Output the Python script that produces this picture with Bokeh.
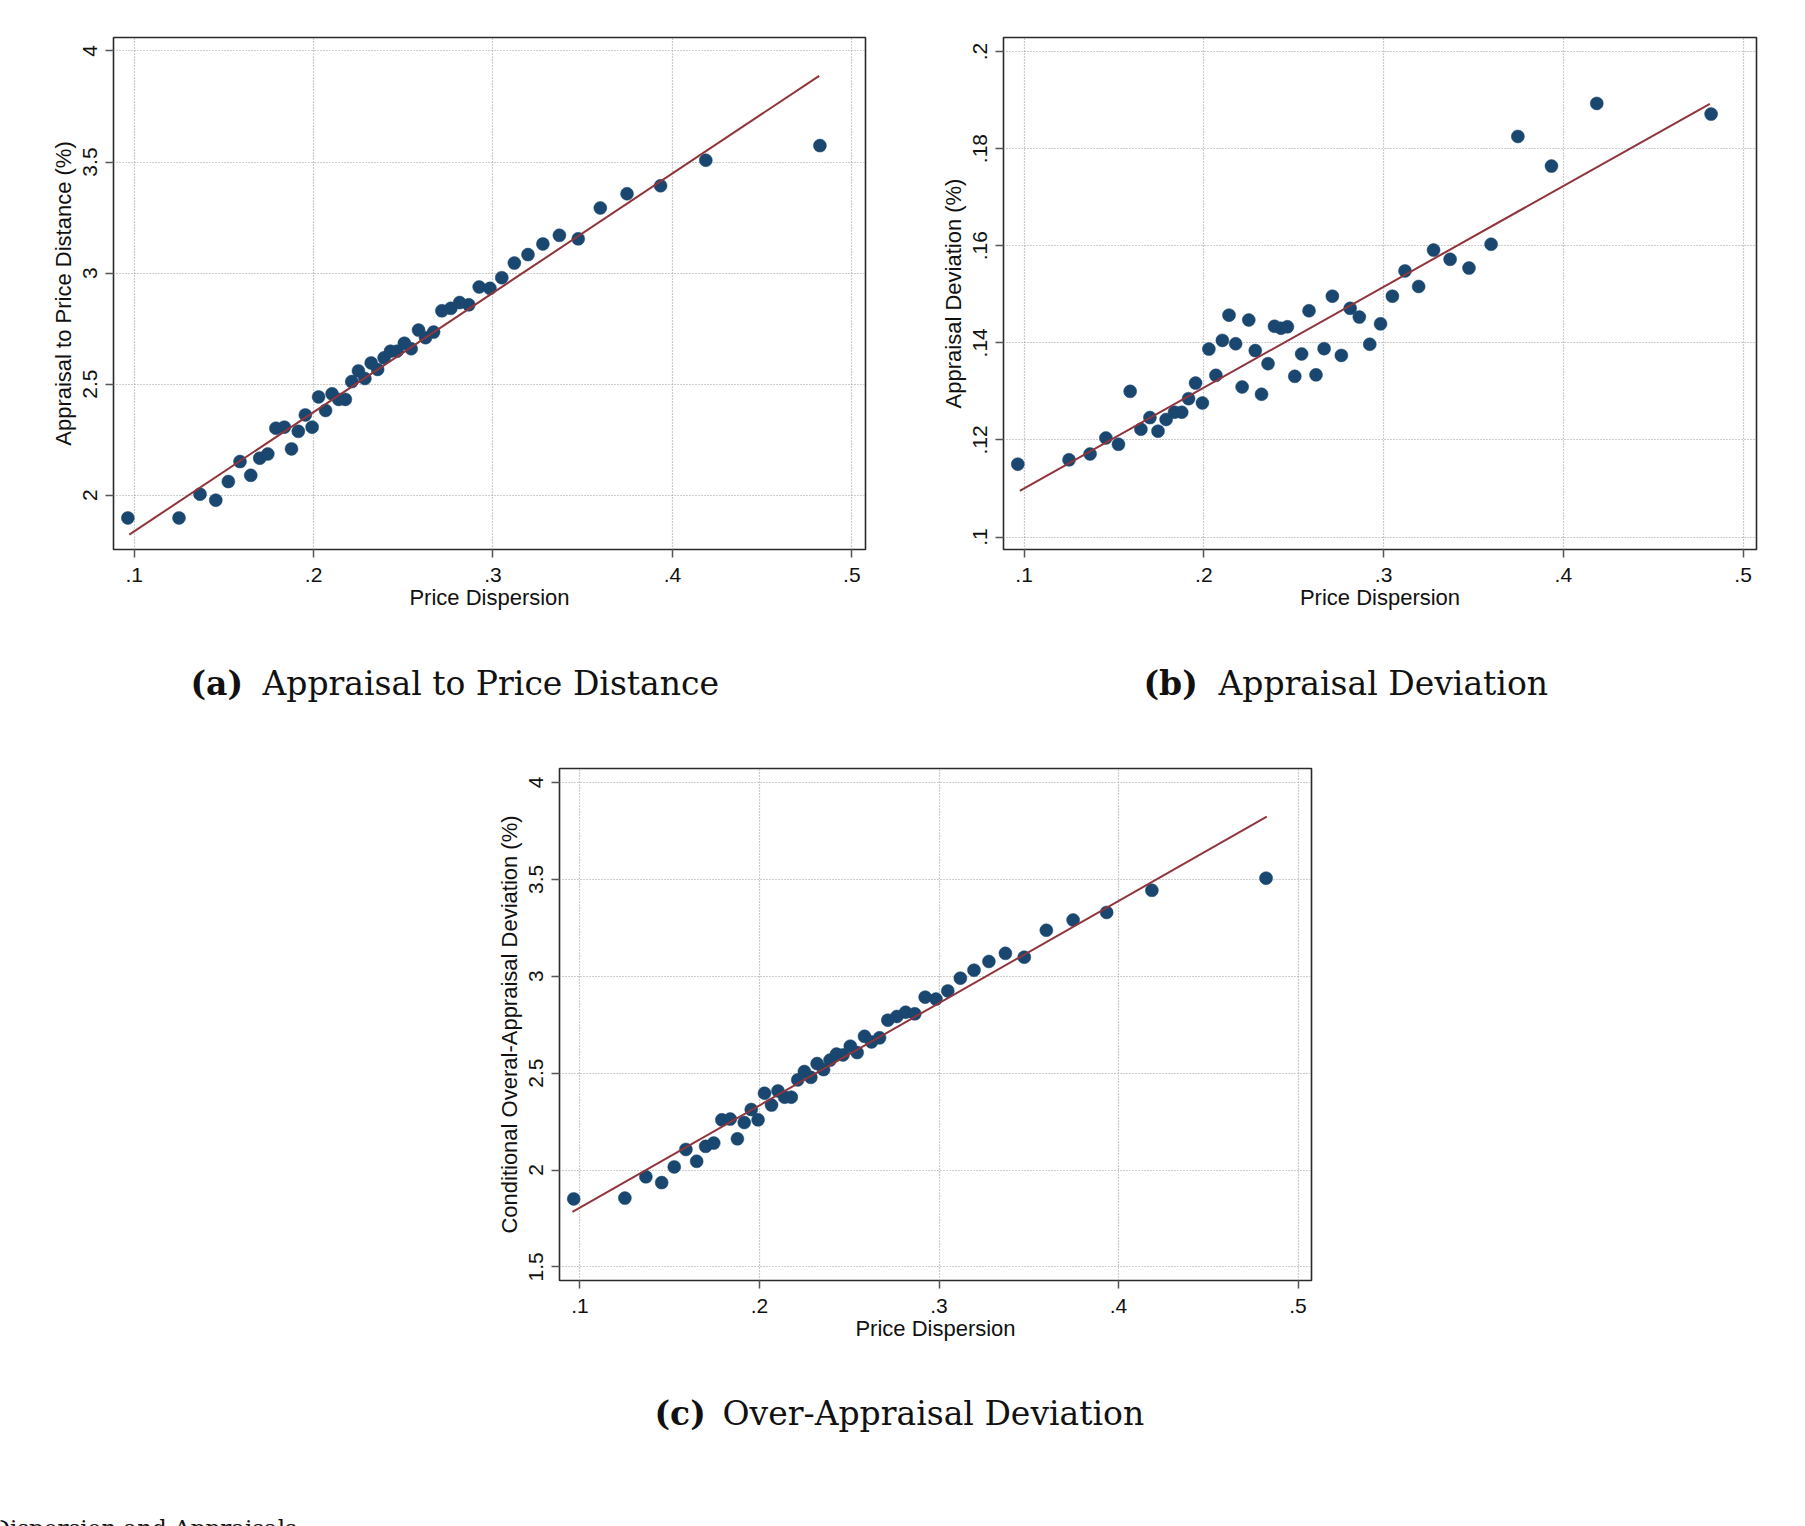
from bokeh.plotting import figure
from bokeh.models import Range1d, FixedTicker
from bokeh.core.properties import value
from bokeh.layouts import row, column
from bokeh.embed import file_html
from bokeh.resources import INLINE

# ---------------- data ----------------
price_dispersion = [0.0965, 0.125, 0.1367, 0.1455, 0.1525, 0.159, 0.165, 0.170, 0.1745, 0.179,
                    0.1837, 0.1877, 0.1915, 0.1954, 0.1992, 0.2028, 0.2067, 0.2103, 0.214, 0.2177,
                    0.2213, 0.225, 0.2286, 0.2321, 0.2357, 0.2393, 0.2429, 0.2465, 0.2506, 0.2544,
                    0.2585, 0.2624, 0.2669, 0.2715, 0.2765, 0.2814, 0.2865, 0.2923, 0.2983, 0.3049,
                    0.3119, 0.3195, 0.3278, 0.337, 0.3475, 0.3598, 0.3747, 0.3934, 0.4186, 0.4822]

appraisal_price_distance = [1.897, 1.897, 2.004, 1.977, 2.061, 2.151, 2.089, 2.166, 2.185, 2.301,
                            2.306, 2.208, 2.287, 2.361, 2.306, 2.442, 2.381, 2.456, 2.431, 2.431,
                            2.511, 2.559, 2.525, 2.595, 2.566, 2.618, 2.648, 2.648, 2.684, 2.659,
                            2.743, 2.709, 2.734, 2.830, 2.841, 2.867, 2.857, 2.937, 2.931, 2.979,
                            3.045, 3.083, 3.131, 3.170, 3.154, 3.293, 3.357, 3.393, 3.508, 3.574]

appraisal_deviation = [0.1150, 0.1159, 0.1171, 0.1204, 0.1191, 0.1300, 0.1222, 0.1246, 0.1218, 0.1242,
                       0.1257, 0.1257, 0.1285, 0.1317, 0.1276, 0.1387, 0.1333, 0.1405, 0.1457, 0.1398,
                       0.1309, 0.1447, 0.1384, 0.1294, 0.1357, 0.1434, 0.1430, 0.1433, 0.1331, 0.1377,
                       0.1466, 0.1334, 0.1388, 0.1496, 0.1374, 0.1471, 0.1453, 0.1397, 0.1439, 0.1496,
                       0.1548, 0.1516, 0.1591, 0.1572, 0.1554, 0.1603, 0.1825, 0.1764, 0.1893, 0.1871]

over_appraisal_deviation = [1.851, 1.855, 1.965, 1.935, 2.016, 2.106, 2.045, 2.122, 2.139, 2.259,
                            2.263, 2.161, 2.245, 2.312, 2.259, 2.396, 2.335, 2.408, 2.376, 2.376,
                            2.465, 2.508, 2.478, 2.549, 2.518, 2.567, 2.598, 2.594, 2.639, 2.606,
                            2.690, 2.661, 2.682, 2.773, 2.792, 2.814, 2.806, 2.892, 2.882, 2.924,
                            2.990, 3.031, 3.076, 3.118, 3.098, 3.237, 3.290, 3.329, 3.443, 3.506]

# linear-fit lines (end points)
fit_x_a = [0.0973, 0.4818]
fit_y_a = [1.822, 3.888]
fit_x_b = [0.0976, 0.4815]
fit_y_b = [0.1095, 0.1892]
fit_x_c = [0.0958, 0.4826]
fit_y_c = [1.784, 3.824]

x_ticks = [0.1, 0.2, 0.3, 0.4, 0.5]
x_tick_labels = [".1", ".2", ".3", ".4", ".5"]
a_ticks = [2, 2.5, 3, 3.5, 4]
a_tick_labels = ["2", "2.5", "3", "3.5", "4"]
b_ticks = [0.1, 0.12, 0.14, 0.16, 0.18, 0.2]
b_tick_labels = [".1", ".12", ".14", ".16", ".18", ".2"]
c_ticks = [1.5, 2, 2.5, 3, 3.5, 4]
c_tick_labels = ["1.5", "2", "2.5", "3", "3.5", "4"]

x_title = "Price Dispersion"
a_title = "Appraisal to Price Distance (%)"
b_title = "Appraisal Deviation (%)"
c_title = "Conditional Overal-Appraisal Deviation (%)"

caption_tags = ["(a)", "(b)", "(c)"]
caption_texts = ["Appraisal to Price Distance", "Appraisal Deviation", "Over-Appraisal Deviation"]
figure_note = "Dispersion and Appraisals"

# ---------------- styling ----------------
NAVY = "#1a476f"
MAROON = "#90353b"
SANS = "Liberation Sans"
SERIF = "DejaVu Serif"
CAP_SIZE = "33px"


def make_panel(width, height, bl, br, bt, bb, xr, yr, y, fx, fy, yt, ytl, ylabel):
    p = figure(width=width, height=height, x_range=Range1d(*xr), y_range=Range1d(*yr),
               output_backend="svg", toolbar_location=None,
               min_border_left=bl, min_border_right=br, min_border_top=bt, min_border_bottom=bb)
    p.background_fill_color = "white"
    p.border_fill_color = "white"
    p.outline_line_color = "#2a2a2a"
    p.outline_line_width = 1.6

    for ax, ticks, labels in ((p.xaxis[0], x_ticks, x_tick_labels), (p.yaxis[0], yt, ytl)):
        ax.ticker = FixedTicker(ticks=ticks)
        ax.major_label_overrides = {t: s for t, s in zip(ticks, labels)}
        ax.axis_line_color = None
        ax.major_tick_in = 0
        ax.major_tick_out = 8
        ax.major_tick_line_color = "#555555"
        ax.major_tick_line_width = 1.5
        ax.minor_tick_line_color = None
        ax.major_label_text_font = SANS
        ax.major_label_text_font_size = "21px"
        ax.major_label_text_color = "#111111"
        ax.axis_label_text_font = SANS
        ax.axis_label_text_font_size = "22px"
        ax.axis_label_text_font_style = "normal"
        ax.axis_label_text_color = "#111111"

    p.xaxis.axis_label = x_title
    p.xaxis.major_label_standoff = 10
    p.xaxis.axis_label_standoff = 0
    p.yaxis.axis_label = ylabel
    p.yaxis.major_label_orientation = "vertical"
    p.yaxis.major_label_standoff = 8
    p.yaxis.axis_label_standoff = 5

    for g in (p.xgrid[0], p.ygrid[0]):
        g.grid_line_color = "#9a9a9a"
        g.grid_line_width = 1.2
        g.grid_line_dash = "1 2"

    p.scatter(price_dispersion, y, size=13, fill_color=NAVY, line_color=NAVY, line_width=0.5)
    p.line(fx, fy, line_color=MAROON, line_width=2)
    return p


def text_panel(width, height):
    p = figure(width=width, height=height, x_range=Range1d(0, width), y_range=Range1d(height, 0),
               output_backend="svg", toolbar_location=None,
               min_border_left=0, min_border_right=0, min_border_top=0, min_border_bottom=0)
    p.axis.visible = False
    p.grid.visible = False
    p.outline_line_color = None
    p.background_fill_color = "white"
    p.border_fill_color = "white"
    return p


def caption(p, x_tag, x_text, yc, i):
    p.text(x=[x_tag], y=[yc], text=[caption_tags[i]], text_font=value(SERIF),
           text_font_style="bold", text_font_size=value(CAP_SIZE),
           text_baseline="middle", text_align="left", text_color="#111111")
    p.text(x=[x_text], y=[yc], text=[caption_texts[i]], text_font=value(SERIF),
           text_font_size=value(CAP_SIZE),
           text_baseline="middle", text_align="left", text_color="#111111")


WA = 930
WB = 1805 - WA
HP = 640          # panel height, top row
HC = 90           # caption strip, top row
HPC = 640         # panel height, bottom
HCC = 1526 - (HP + HC) - HPC

pa = make_panel(WA, HP, 113, WA - 113 - 752, 37, HP - 549,
                (0.0885, 0.5076), (1.7549, 4.0608),
                appraisal_price_distance, fit_x_a, fit_y_a, a_ticks, a_tick_labels, a_title)
ca = text_panel(WA, HC)
caption(ca, 190, 262, 683 - HP, 0)

pb = make_panel(WB, HP, 73, WB - 73 - 753, 37, HP - 549,
                (0.08854, 0.50746), (0.09743, 0.20288),
                appraisal_deviation, fit_x_b, fit_y_b, b_ticks, b_tick_labels, b_title)
cb = text_panel(WB, HC)
caption(cb, 1143 - WA, 1218 - WA, 683 - HP, 1)

top = HP + HC
pc = make_panel(1805, HPC, 559, 1805 - 559 - 752, 768 - top, top + HPC - 1280,
                (0.08858, 0.50752), (1.4299, 4.0717),
                over_appraisal_deviation, fit_x_c, fit_y_c, c_ticks, c_tick_labels, c_title)
cc = text_panel(1805, HCC)
caption(cc, 654, 722, 1413 - top - HPC, 2)
# the figure's own caption, cut off by the bottom edge of the page (as in the reference)
cc.text(x=[2], y=[1514 - top - HPC], text=[figure_note], text_font=value(SERIF),
        text_font_size=value("23px"), text_baseline="top", text_align="left",
        text_color="#111111", x_offset=-11)

# caption strips are wrapped in their own rows so their frames are not aligned with the panels
layout = column(row(column(pa, row(ca, spacing=0), spacing=0),
                    column(pb, row(cb, spacing=0), spacing=0), spacing=0),
                pc, row(cc, spacing=0), spacing=0)

open("out.html", "w").write(file_html(layout, INLINE))
